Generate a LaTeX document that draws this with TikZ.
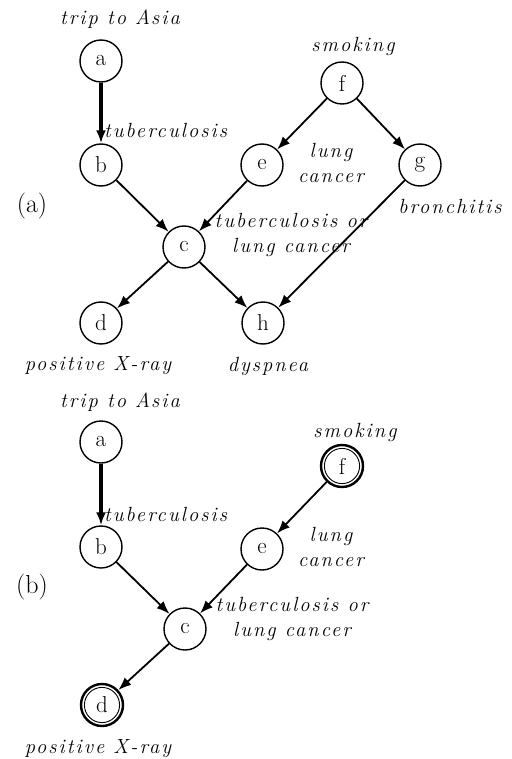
\RequirePackage{fix-cm}
\documentclass[tikz,border=0pt]{standalone}
\usepackage{fontspec}
\newfontfamily\labfont[LetterSpace=10]{Latin Modern Roman}
\usetikzlibrary{arrows.meta}
\begin{document}
\begin{tikzpicture}[x=1pt,y=-1pt,
  nd/.style={circle,draw,line width=1.4pt,minimum size=42pt,inner sep=0pt,font=\fontsize{23}{23}\selectfont},
  dbl/.style={nd,line width=2.4pt},
  lbl/.style={inner sep=0pt,align=center,font=\labfont\itshape\fontsize{20.5}{25}\selectfont},
  pan/.style={inner sep=0pt,font=\fontsize{26}{26}\selectfont},
  ed/.style={line width=1.8pt,-{Latex[length=13pt,width=10pt]}},
  thk/.style={line width=3.6pt,-{Latex[length=13pt,width=10pt]}}]
\useasboundingbox (0,0) rectangle (511,759);

% ---------- panel (a)
\node[nd] (a) at (101,61) {a};
\node[nd] (b) at (101,165) {b};
\node[nd] (e) at (262,165) {e};
\node[nd] (f) at (342,83) {f};
\node[nd] (g) at (420,165) {g};
\node[nd] (c) at (184,247) {c};
\node[nd] (d) at (101,323) {d};
\node[nd] (h) at (263,323) {h};

\node[lbl] (la) at (120,19) {trip to Asia};
\node[lbl] (lf) at (353,46) {smoking};
\node[lbl,anchor=west] (lb) at (104,130) {tuberculosis};
\node[lbl] (le) at (331,163) {lung\\cancer};
\node[lbl] (lg) at (450,206) {bronchitis};
\node[lbl] (lc) at (291,235) {tuberculosis or\\lung cancer};
\node[lbl] (ld) at (98,366) {positive X-ray};
\node[lbl] (lh) at (268,366) {dyspnea};
\node[pan] (pa) at (32,206) {(a)};

\draw[thk] (a) -- (b);
\draw[ed] (b) -- (c);
\draw[ed] (e) -- (c);
\draw[ed] (c) -- (d);
\draw[ed] (c) -- (h);
\draw[ed] (f) -- (e);
\draw[ed] (f) -- (g);
\draw[ed] (g) -- (h);

% ---------- panel (b)
\node[nd] (a2) at (101,442) {a};
\node[nd] (b2) at (101,547) {b};
\node[nd] (e2) at (262,549) {e};
\node[dbl] (f2) at (342,466) {f};
\node[nd] (c2) at (185,629) {c};
\node[dbl] (d2) at (102,705) {d};
\draw[line width=0.9pt] (f2.center) circle (17.6pt);
\draw[line width=0.9pt] (d2.center) circle (17.6pt);

\node[lbl] (la2) at (120,402) {trip to Asia};
\node[lbl] (lf2) at (355,432) {smoking};
\node[lbl,anchor=west] (lb2) at (104,514) {tuberculosis};
\node[lbl] (le2) at (331,547) {lung\\cancer};
\node[lbl] (lc2) at (292,619) {tuberculosis or\\lung cancer};
\node[lbl] (ld2) at (98,749) {positive X-ray};
\node[pan] (pb) at (32,587) {(b)};

\draw[thk] (a2) -- (b2);
\draw[ed] (b2) -- (c2);
\draw[ed] (e2) -- (c2);
\draw[ed] (c2) -- (d2);
\draw[ed] (f2) -- (e2);
\end{tikzpicture}
\end{document}
